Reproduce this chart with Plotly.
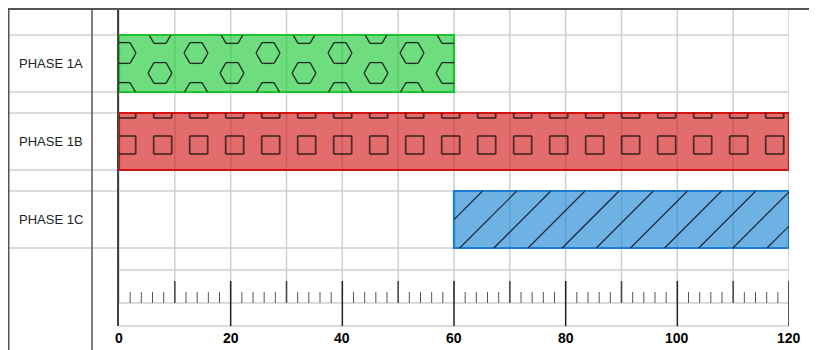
import math
import plotly.graph_objects as go

# ---------------- data ----------------
phases = ["PHASE 1A", "PHASE 1B", "PHASE 1C"]
starts = [0, 0, 60]
ends = [60, 120, 120]
fill_colors = ["rgba(20,200,50,0.62)", "rgba(210,20,20,0.62)", "rgba(20,130,210,0.62)"]
line_colors = ["rgb(25,195,50)", "rgb(210,20,20)", "rgb(25,125,210)"]
patterns = ["hexagon", "square", "diagonal"]
x_ticks = [0, 20, 40, 60, 80, 100, 120]
x_min, x_max = 0, 120

# ---------------- geometry ----------------
# page has an 8px body margin: the figure starts at window pixel (8, 8)
OFF = 8
W, H = 817 - OFF, 350 - OFF
ML, MR, MT, MB = 119 - OFF, 28, 9 - OFF, 24
PW = W - ML - MR
PH = H - MT - MB
ROW_PX = 78
FIRST_ROW_PX = 54.5
BAR_PX = 57
px_per_x = PW / (x_max - x_min)
y_top = -FIRST_ROW_PX / ROW_PX
y_bot = (PH - FIRST_ROW_PX) / ROW_PX
bar_w = BAR_PX / ROW_PX


def py_to_paper(py):  # window pixel -> paper y
    return 1 - (py - OFF - MT) / PH


def px_to_paper(px):  # window pixel -> paper x
    return (px - OFF - ML) / PW


def clip_seg(x0, y0, x1, y1, w, h):
    dx, dy = x1 - x0, y1 - y0
    t0, t1 = 0.0, 1.0
    for p, q in ((-dx, x0), (dx, w - x0), (-dy, y0), (dy, h - y0)):
        if p == 0:
            if q < 0:
                return None
        else:
            t = q / p
            if p < 0:
                if t > t1:
                    return None
                t0 = max(t0, t)
            else:
                if t < t0:
                    return None
                t1 = min(t1, t)
    if t1 - t0 < 1e-6:
        return None
    return (x0 + t0 * dx, y0 + t0 * dy, x0 + t1 * dx, y0 + t1 * dy)


def polygon_segs(pts):
    n = len(pts)
    return [(pts[k][0], pts[k][1], pts[(k + 1) % n][0], pts[(k + 1) % n][1]) for k in range(n)]


def pattern_segments(kind, w, h):
    segs = []
    if kind == "hexagon":
        r = 12
        for k in range(-1, int(w / 72) + 2):
            for m in range(-1, int(h / 40) + 2):
                for cx, cy in ((5 + 72 * k, 18 + 40 * m), (41 + 72 * k, 38 + 40 * m)):
                    pts = [(cx + r * math.cos(math.radians(a)), cy + r * math.sin(math.radians(a)))
                           for a in range(0, 360, 60)]
                    segs += polygon_segs(pts)
    elif kind == "square":
        s = 9
        for k in range(-1, int(w / 36) + 2):
            for m in range(-1, int(h / 36) + 2):
                cx, cy = 7.7 + 36 * k, -4 + 36 * m
                pts = [(cx - s, cy - s), (cx + s, cy - s), (cx + s, cy + s), (cx - s, cy + s)]
                segs += polygon_segs(pts)
    else:
        for k in range(-2, int((w + h) / 34.15) + 3):
            c = 28.55 + 34.15 * k
            segs.append((c, 0, c - h, h))
    out = []
    for sg in segs:
        c = clip_seg(*sg, w, h)
        if c:
            out.append(c)
    return out


pattern_style = {
    "hexagon": dict(color="rgba(20,20,20,0.9)", width=1.3),
    "square": dict(color="rgba(40,20,20,0.75)", width=1.8),
    "diagonal": dict(color="rgba(15,20,30,0.9)", width=1.1),
}

fig = go.Figure()

# bars
for i, (s, e) in enumerate(zip(starts, ends)):
    fig.add_trace(go.Bar(
        y=[i], x=[e - s], base=[s], orientation="h", width=bar_w,
        marker=dict(color=fill_colors[i], line=dict(color=line_colors[i], width=2.2)),
        hoverinfo="skip", showlegend=False,
    ))

# pattern decorations
for i, (s, e) in enumerate(zip(starts, ends)):
    left = s * px_per_x
    top = (i - bar_w / 2 - y_top) * ROW_PX
    w = (e - s) * px_per_x
    xs, ys = [], []
    for (a, b, c, d) in pattern_segments(patterns[i], w, BAR_PX):
        xs += [(left + a) / px_per_x, (left + c) / px_per_x, None]
        ys += [y_top + (top + b) / ROW_PX, y_top + (top + d) / ROW_PX, None]
    fig.add_trace(go.Scatter(x=xs, y=ys, mode="lines", line=pattern_style[patterns[i]],
                             hoverinfo="skip", showlegend=False))

shapes = []
GRID = "#d0d0d0"
ruler_top = py_to_paper(270)
ruler_base = py_to_paper(303)
major_top = py_to_paper(281)
minor_top = py_to_paper(292)

# vertical gridlines
for v in range(x_min, x_max + 1, 10):
    shapes.append(dict(type="line", xref="x", yref="paper", x0=v, x1=v, y0=ruler_base, y1=1,
                       line=dict(color=GRID, width=1.5), layer="below"))
# horizontal lines at bar edges (spanning label column too)
for i in range(len(phases)):
    for yy in (i - bar_w / 2, i + bar_w / 2):
        shapes.append(dict(type="line", xref="paper", yref="y", x0=px_to_paper(8), x1=1,
                           y0=yy, y1=yy, line=dict(color=GRID, width=1.5), layer="below"))
# ruler frame lines
for yy in (ruler_top, ruler_base, 0):
    shapes.append(dict(type="line", xref="x", yref="paper", x0=x_min, x1=x_max, y0=yy, y1=yy,
                       line=dict(color=GRID, width=1.5), layer="below"))
# ruler ticks
for v in range(x_min + 2, x_max + 1, 2):
    if v % 20 == 0:
        y0, y1, col, wd = 0, major_top, "#222", 1.5
    elif v % 10 == 0:
        y0, y1, col, wd = ruler_base, major_top, "#444", 1.5
    else:
        y0, y1, col, wd = ruler_base, minor_top, "#555", 1.0
    shapes.append(dict(type="line", xref="x", yref="paper", x0=v, x1=v, y0=y0, y1=y1,
                       line=dict(color=col, width=wd)))
# frame: top line and label column
shapes.append(dict(type="line", xref="paper", yref="paper", x0=px_to_paper(8), x1=px_to_paper(817),
                   y0=py_to_paper(9), y1=py_to_paper(9), line=dict(color="#555", width=2)))
for px in (8.75, 92):
    shapes.append(dict(type="line", xref="paper", yref="paper", x0=px_to_paper(px), x1=px_to_paper(px),
                       y0=py_to_paper(9), y1=py_to_paper(352), line=dict(color="#555", width=1.5)))

annotations = []
for i, name in enumerate(phases):
    annotations.append(dict(text=name, x=px_to_paper(50.5), xref="paper", y=i, yref="y",
                            showarrow=False, xanchor="center", yanchor="middle",
                            font=dict(family="Liberation Sans, Arial, sans-serif", size=13, color="#222")))
for t in x_ticks:
    annotations.append(dict(text="<b>%d</b>" % t, x=t, xref="x", y=py_to_paper(337.5), yref="paper",
                            showarrow=False, xanchor="center", yanchor="middle", bgcolor="white",
                            borderpad=2,
                            font=dict(family="Liberation Sans, Arial, sans-serif", size=14, color="#000")))

fig.update_layout(
    width=W, height=H, margin=dict(l=ML, r=MR, t=MT, b=MB),
    paper_bgcolor="white", plot_bgcolor="rgba(0,0,0,0)",
    barmode="overlay", shapes=shapes, annotations=annotations,
    xaxis=dict(range=[x_min, x_max], showgrid=False, zeroline=False, showticklabels=False,
               ticks="", showline=False, fixedrange=True),
    yaxis=dict(range=[y_bot, y_top], showgrid=False, zeroline=False, showticklabels=False,
               ticks="", showline=True, linecolor="#444", linewidth=1.5, fixedrange=True),
)

fig.write_html("out.html")
